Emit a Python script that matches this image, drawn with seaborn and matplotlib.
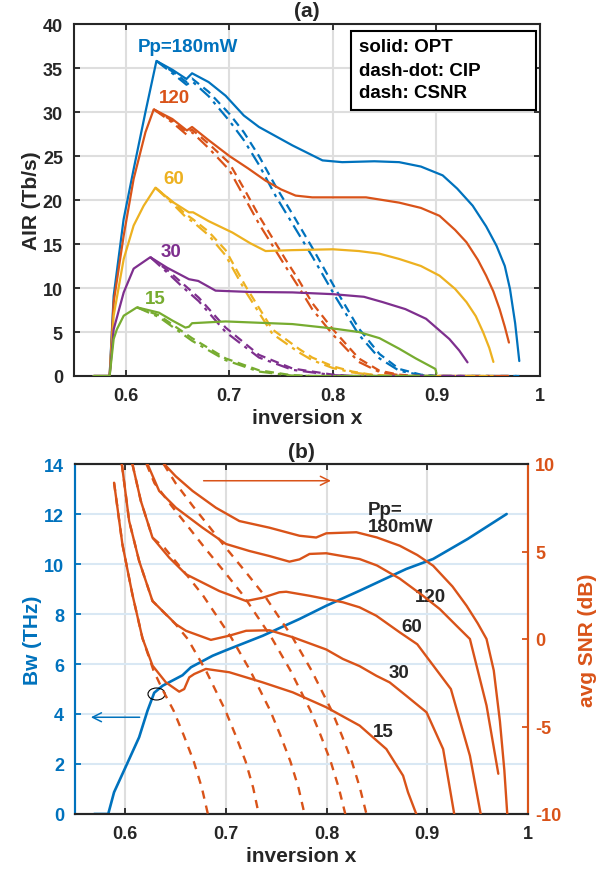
import numpy as np
import pandas as pd
import matplotlib
matplotlib.use("Agg")
import matplotlib.pyplot as plt
from matplotlib.patches import Ellipse, Rectangle
import seaborn as sns

sns.set_style("ticks")
plt.rcParams['font.family'] = ['Liberation Sans', 'DejaVu Sans']
plt.rcParams['font.weight'] = 'bold'
plt.rcParams['axes.labelweight'] = 'bold'
plt.rcParams['axes.titleweight'] = 'bold'
plt.rcParams['axes.unicode_minus'] = False

# ---------------- colours ----------------
C_BLUE = "#0072BD"
C_ORANGE = "#D95319"
C_YELLOW = "#EDB120"
C_PURPLE = "#7E2F8E"
C_GREEN = "#77AC30"

# ---------------- panel (a) data: AIR (Tb/s) ----------------
powers = ["180", "120", "60", "30", "15"]

opt180_x = [0.569, 0.5844, 0.5883, 0.5979, 0.6076, 0.619, 0.6296, 0.645, 0.6586, 0.664, 0.680, 0.6964, 0.714, 0.7286, 0.761, 0.790, 0.809, 0.840, 0.864, 0.885, 0.906, 0.920, 0.935, 0.948, 0.958, 0.966, 0.971, 0.976, 0.980]
opt180_y = [0, 0, 9.1, 17.8, 23.5, 30.0, 35.8, 34.8, 33.75, 34.4, 33.4, 31.85, 29.6, 28.3, 26.2, 24.5, 24.3, 24.4, 24.3, 23.8, 22.8, 21.3, 19.35, 17.0, 14.8, 12.5, 9.9, 6.0, 1.7]
opt120_x = [0.569, 0.5844, 0.5883, 0.5979, 0.6076, 0.619, 0.627, 0.645, 0.659, 0.664, 0.680, 0.700, 0.718, 0.735, 0.750, 0.764, 0.780, 0.800, 0.832, 0.864, 0.885, 0.903, 0.918, 0.929, 0.940, 0.948, 0.955, 0.961, 0.966, 0.970]
opt120_y = [0, 0, 8.4, 15.9, 22.4, 27.7, 30.3, 29.2, 27.9, 28.3, 26.8, 25.0, 23.6, 22.2, 21.2, 20.5, 20.3, 20.3, 20.3, 19.7, 19.1, 18.2, 16.6, 15.2, 13.2, 11.4, 9.6, 7.6, 5.6, 3.8]
opt60_x = [0.569, 0.5844, 0.5883, 0.598, 0.6076, 0.6173, 0.6286, 0.645, 0.661, 0.665, 0.680, 0.703, 0.720, 0.735, 0.760, 0.800, 0.825, 0.845, 0.864, 0.885, 0.903, 0.918, 0.929, 0.938, 0.945, 0.951, 0.955]
opt60_y = [0, 0, 6.85, 13.3, 17.1, 19.35, 21.4, 19.8, 18.6, 18.6, 17.6, 16.3, 15.1, 14.2, 14.3, 14.4, 14.2, 13.9, 13.3, 12.5, 11.4, 9.9, 8.4, 6.8, 5.0, 3.2, 1.6]
opt30_x = [0.569, 0.5844, 0.5883, 0.598, 0.6076, 0.6237, 0.640, 0.661, 0.670, 0.6867, 0.720, 0.761, 0.800, 0.830, 0.848, 0.870, 0.890, 0.9125, 0.922, 0.930]
opt30_y = [0, 0, 5.3, 9.5, 12.2, 13.5, 12.3, 11.0, 10.8, 9.7, 9.55, 9.5, 9.3, 9.0, 8.4, 7.6, 6.5, 4.2, 2.9, 1.55]
opt15_x = [0.569, 0.5844, 0.5883, 0.5914, 0.598, 0.6108, 0.632, 0.645, 0.6576, 0.661, 0.664, 0.680, 0.6964, 0.761, 0.800, 0.825, 0.845, 0.864, 0.880, 0.899, 0.900]
opt15_y = [0, 0, 4.2, 5.3, 6.85, 7.8, 7.2, 6.3, 5.5, 5.6, 6.0, 6.1, 6.2, 5.9, 5.4, 5.0, 4.3, 3.1, 2.0, 0.8, 0.3]

# CSNR (dash) and CIP (dash-dot), after the peak
dash180_x = [0.6296, 0.645, 0.6586, 0.664, 0.680, 0.700, 0.714, 0.7286, 0.745, 0.762, 0.780, 0.803, 0.825, 0.845, 0.864, 0.885, 0.900, 0.980]
csnr180_y = [35.8, 34.6, 33.4, 33.8, 32.3, 29.8, 27.7, 25.0, 21.5, 18.2, 14.6, 9.8, 5.4, 2.5, 0.8, 0.15, 0.0, 0.0]
cip180_y = [35.8, 34.4, 33.1, 33.5, 31.8, 29.0, 26.8, 24.0, 20.4, 17.1, 13.6, 8.9, 4.7, 2.0, 0.6, 0.1, 0.0, 0.0]
dash120_x = [0.627, 0.645, 0.659, 0.664, 0.680, 0.700, 0.716, 0.7286, 0.7545, 0.767, 0.780, 0.800, 0.825, 0.845, 0.864, 0.880, 0.970]
csnr120_y = [30.3, 29.0, 27.7, 28.0, 26.4, 24.2, 20.9, 18.2, 13.2, 10.9, 8.3, 5.3, 2.0, 0.6, 0.15, 0.0, 0.0]
cip120_y = [30.3, 28.8, 27.4, 27.7, 25.9, 23.4, 20.0, 17.3, 12.4, 10.1, 7.6, 4.7, 1.6, 0.45, 0.1, 0.0, 0.0]
dash60_x = [0.6286, 0.645, 0.6576, 0.665, 0.680, 0.6964, 0.7157, 0.7415, 0.767, 0.780, 0.800, 0.819, 0.840, 0.860, 0.955]
csnr60_y = [21.4, 19.8, 18.4, 17.8, 16.4, 14.3, 10.2, 5.3, 3.1, 2.1, 1.1, 0.5, 0.1, 0.0, 0.0]
cip60_y = [21.4, 19.6, 18.1, 17.5, 16.0, 13.7, 9.6, 4.8, 2.7, 1.8, 0.9, 0.4, 0.1, 0.0, 0.0]
dash30_x = [0.6237, 0.6415, 0.655, 0.6705, 0.6964, 0.7286, 0.761, 0.800, 0.820, 0.930]
csnr30_y = [13.5, 11.9, 10.5, 8.9, 5.5, 2.4, 0.85, 0.15, 0.0, 0.0]
cip30_y = [13.5, 11.6, 10.1, 8.5, 5.0, 2.1, 0.7, 0.1, 0.0, 0.0]
dash15_x = [0.6108, 0.632, 0.664, 0.6964, 0.7286, 0.760, 0.780, 0.900]
csnr15_y = [7.8, 6.9, 4.3, 2.0, 0.65, 0.1, 0.0, 0.0]
cip15_y = [7.8, 6.7, 4.0, 1.8, 0.5, 0.05, 0.0, 0.0]

air_labels = ["Pp=180mW", "120", "60", "30", "15"]
air_label_x = [0.6599, 0.6473, 0.6463, 0.6434, 0.628]
air_label_y = [37.5, 31.6, 22.4, 14.1, 8.75]

# ---------------- panel (b) data ----------------
bw_x = [0.569, 0.583, 0.5888, 0.6005, 0.6137, 0.622, 0.6287, 0.637, 0.6436, 0.6568, 0.6652, 0.6867, 0.700, 0.7365, 0.773, 0.7996, 0.8327, 0.879, 0.9057, 0.940, 0.9788]
bw_y = [0, 0, 0.87, 1.9, 3.07, 4.13, 4.85, 5.13, 5.27, 5.55, 5.87, 6.33, 6.55, 7.13, 7.8, 8.33, 8.93, 9.8, 10.2, 11.0, 12.0]

snr180_x = [0.6386, 0.650, 0.6668, 0.690, 0.7133, 0.7432, 0.773, 0.7896, 0.7996, 0.8295, 0.850, 0.8726, 0.890, 0.9057, 0.925, 0.939, 0.950, 0.9588, 0.966, 0.9721, 0.9765, 0.9794]
snr180_y = [10, 9.3, 8.46, 7.5, 6.74, 6.36, 5.9, 5.8, 6.04, 6.1, 5.8, 5.33, 4.8, 4.19, 3.0, 1.9, 0.9, 0.0, -1.8, -4.7, -7.5, -10]
snr120_x = [0.622, 0.6336, 0.6503, 0.6767, 0.700, 0.7232, 0.7432, 0.763, 0.773, 0.783, 0.7996, 0.8327, 0.850, 0.8726, 0.895, 0.9124, 0.930, 0.9423, 0.9588, 0.9705]
snr120_y = [10, 8.46, 7.5, 6.36, 5.43, 5.03, 4.74, 4.42, 4.55, 4.86, 4.9, 4.57, 4.2, 3.45, 2.5, 1.71, 0.7, 0.0, -3.8, -7.7]
snr60_x = [0.607, 0.6154, 0.627, 0.6436, 0.6602, 0.6934, 0.720, 0.7365, 0.753, 0.7598, 0.783, 0.8161, 0.8327, 0.8493, 0.8726, 0.890, 0.9234, 0.9423, 0.953]
snr60_y = [10, 7.89, 5.79, 4.65, 3.7, 2.74, 2.17, 2.36, 2.67, 2.7, 2.47, 2.1, 1.81, 1.33, 0.38, -0.3, -2.86, -6.67, -10]
snr30_x = [0.5965, 0.6038, 0.6137, 0.627, 0.6503, 0.6602, 0.685, 0.7033, 0.720, 0.7432, 0.7664, 0.7996, 0.8161, 0.8327, 0.8493, 0.8626, 0.879, 0.8992, 0.9157, 0.9267]
snr30_y = [10, 6.74, 4.46, 2.17, 0.84, 0.47, -0.05, 0.19, 0.47, 0.5, 0.1, -0.6, -1.14, -1.55, -2.1, -2.48, -3.24, -4.19, -6.29, -10]
snr15_x = [0.5888, 0.5971, 0.607, 0.617, 0.627, 0.6403, 0.6535, 0.6585, 0.6635, 0.6685, 0.680, 0.7033, 0.7365, 0.7664, 0.7996, 0.8328, 0.8593, 0.8759, 0.8808, 0.889]
snr15_y = [8.93, 5.41, 2.55, 0.05, -1.52, -2.48, -3.01, -2.86, -2.19, -2.0, -1.71, -1.9, -2.48, -3.05, -3.9, -4.95, -6.29, -7.81, -8.76, -10]

csnr_snr180_x = [0.638, 0.650, 0.667, 0.685, 0.700, 0.720, 0.738, 0.752, 0.766, 0.785, 0.805, 0.815, 0.825, 0.833, 0.8395]
csnr_snr180_y = [10, 8.9, 7.6, 6.3, 5.2, 3.8, 2.5, 1.3, 0.1, -1.8, -4.1, -5.5, -7.0, -8.5, -10]
csnr_snr120_x = [0.621, 0.629, 0.646, 0.664, 0.679, 0.699, 0.717, 0.731, 0.745, 0.764, 0.784, 0.794, 0.804, 0.812, 0.8185]
csnr_snr120_y = [10, 8.9, 7.6, 6.3, 5.2, 3.8, 2.5, 1.3, 0.1, -1.8, -4.1, -5.5, -7.0, -8.5, -10]
csnr_snr60_x = [0.607, 0.6154, 0.627, 0.639, 0.659, 0.677, 0.691, 0.705, 0.724, 0.744, 0.754, 0.764, 0.772, 0.778]
csnr_snr60_y = [10, 7.89, 5.79, 5.2, 3.8, 2.5, 1.3, 0.1, -1.8, -4.1, -5.5, -7.0, -8.5, -10]
csnr_snr30_x = [0.5965, 0.6038, 0.6137, 0.627, 0.650, 0.662, 0.6800, 0.6995, 0.7095, 0.7195, 0.7270, 0.7325]
csnr_snr30_y = [10, 6.74, 4.46, 2.17, 0.84, 0.0, -1.8, -4.1, -5.5, -7.0, -8.5, -10]
csnr_snr15_x = [0.5888, 0.5971, 0.607, 0.617, 0.628, 0.637, 0.648, 0.658, 0.668, 0.676, 0.682]
csnr_snr15_y = [8.93, 5.41, 2.55, 0.05, -1.8, -2.9, -4.1, -5.5, -7.0, -8.5, -10]

snr_labels = ["Pp=\n180mW", "120", "60", "30", "15"]
snr_label_x = [0.8407, 0.9034, 0.8845, 0.8716, 0.8566]
snr_label_y = [11.84, 8.68, 7.52, 5.68, 3.28]

xticks = [0.6, 0.7, 0.8, 0.9, 1.0]
xtick_labels = ["0.6", "0.7", "0.8", "0.9", "1"]

# ---------------- figure ----------------
W, H = 616, 879
fig = plt.figure(figsize=(W / 100, H / 100), dpi=100)
ax1 = fig.add_axes([74 / W, 1 - 377 / H, (540 - 74) / W, (377 - 25) / H])
ax2 = fig.add_axes([75 / W, 1 - 815 / H, (528 - 75) / W, (815 - 465) / H])

LW = 1.6
FS_TICK = 13
FS_LAB = 15
FS_TXT = 13.5
SPINE = "#262626"
TPAD = 8


def line(ax, x, y, color, ls="-", lw=LW, z=3):
    sns.lineplot(x=x, y=y, ax=ax, color=color, linestyle=ls, linewidth=lw,
                 estimator=None, sort=False, zorder=z, legend=False)


# ---- panel (a)
colors = [C_BLUE, C_ORANGE, C_YELLOW, C_PURPLE, C_GREEN]
opts = [(opt180_x, opt180_y), (opt120_x, opt120_y), (opt60_x, opt60_y), (opt30_x, opt30_y), (opt15_x, opt15_y)]
dashes = [(dash180_x, csnr180_y, cip180_y), (dash120_x, csnr120_y, cip120_y), (dash60_x, csnr60_y, cip60_y),
          (dash30_x, csnr30_y, cip30_y), (dash15_x, csnr15_y, cip15_y)]
for c, (ox, oy), (dx, cs, ci) in zip(colors, opts, dashes):
    line(ax1, dx, ci, c, ls=(0, (6, 2.5, 1.5, 2.5)), lw=LW)
    line(ax1, dx, cs, c, ls=(0, (4, 2.5)), lw=LW)
    line(ax1, ox, oy, c, ls="-", lw=LW)

for lab, lx, ly, c in zip(air_labels, air_label_x, air_label_y, colors):
    ax1.text(lx, ly, lab, color=c, fontsize=FS_TXT, fontweight='bold', ha='center', va='center')

ax1.set_xlim(0.55, 1.0)
ax1.set_ylim(0, 40)
ax1.set_xticks(xticks)
ax1.set_xticklabels(xtick_labels)
ax1.set_yticks(range(0, 41, 5))
ax1.grid(True, color="#dedede", linewidth=1.5, zorder=0)
ax1.set_axisbelow(True)
ax1.tick_params(direction='in', length=4, width=1.3, top=True, right=True,
                labelsize=FS_TICK, colors=SPINE, pad=TPAD)
for s in ax1.spines.values():
    s.set_color(SPINE)
    s.set_linewidth(1.5)
ax1.set_xlabel("inversion x", fontsize=FS_LAB, labelpad=3)
ax1.set_ylabel("AIR (Tb/s)", fontsize=FS_LAB, labelpad=1)
ax1.set_title("(a)", fontsize=FS_LAB, pad=6)

# legend-like box
ax1.add_patch(Rectangle((0.594, 0.756), 0.397, 0.224, transform=ax1.transAxes,
                        facecolor='white', edgecolor='black', linewidth=1.5, zorder=5))
for i, t in enumerate(["solid: OPT", "dash-dot: CIP", "dash: CSNR"]):
    ax1.text(0.611, [0.935, 0.869, 0.804][i], t, transform=ax1.transAxes, fontsize=FS_TXT,
             fontweight='bold', ha='left', va='center', zorder=6, color='black')

# ---- panel (b)
ax2r = ax2.twinx()
line(ax2, bw_x, bw_y, C_BLUE, lw=1.9, z=4)

snrs = [(snr180_x, snr180_y), (snr120_x, snr120_y), (snr60_x, snr60_y), (snr30_x, snr30_y), (snr15_x, snr15_y)]
csnrs = [(csnr_snr180_x, csnr_snr180_y), (csnr_snr120_x, csnr_snr120_y), (csnr_snr60_x, csnr_snr60_y),
         (csnr_snr30_x, csnr_snr30_y), (csnr_snr15_x, csnr_snr15_y)]
for (sx, sy), (cx, cy) in zip(snrs, csnrs):
    line(ax2r, cx, cy, C_ORANGE, ls=(0, (3.5, 3)), lw=1.7)
    line(ax2r, sx, sy, C_ORANGE, ls="-", lw=1.7)

ax2.set_xlim(0.55, 1.0)
ax2.set_ylim(0, 14)
ax2r.set_ylim(-10, 10)
ax2.set_xticks(xticks)
ax2.set_xticklabels(xtick_labels)
ax2.set_yticks(range(0, 15, 2))
ax2r.set_yticks([-10, -5, 0, 5, 10])
ax2.xaxis.grid(True, color="#dedede", linewidth=1.5)
ax2.yaxis.grid(True, color="#d9e8f4", linewidth=1.5)
ax2.set_axisbelow(True)
ax2.tick_params(axis='x', direction='in', length=4, width=1.3, top=True,
                labelsize=FS_TICK, colors=SPINE, pad=TPAD)
ax2.tick_params(axis='y', direction='in', length=4, width=1.3,
                labelsize=FS_TICK, colors=C_BLUE, pad=TPAD)
ax2r.tick_params(axis='y', direction='in', length=4, width=1.3,
                 labelsize=FS_TICK, colors=C_ORANGE, pad=5)
for ax in (ax2, ax2r):
    for s in ax.spines.values():
        s.set_linewidth(1.5)
        s.set_color(SPINE)
    ax.spines['left'].set_color(C_BLUE)
    ax.spines['right'].set_color(C_ORANGE)
ax2.set_xlabel("inversion x", fontsize=FS_LAB, labelpad=3)
ax2.set_ylabel("Bw (THz)", fontsize=FS_LAB, color=C_BLUE, labelpad=1)
ax2r.set_ylabel("avg SNR (dB)", fontsize=FS_LAB, color=C_ORANGE, labelpad=12)
ax2.set_title("(b)", fontsize=FS_LAB, pad=5)

for lab, lx, ly in zip(snr_labels, snr_label_x, snr_label_y):
    ha = 'left' if lab.startswith("Pp") else 'center'
    ax2.text(lx, ly, lab, color='#262626', fontsize=FS_TXT, fontweight='bold', ha=ha,
             va='center', linespacing=1.05, zorder=10)

# arrows and ellipse
ax2.annotate("", xy=(0.563, 3.87), xytext=(0.617, 3.87),
             arrowprops=dict(arrowstyle='->', color=C_BLUE, lw=1.1, mutation_scale=16), zorder=10)
ax2.annotate("", xy=(0.807, 13.33), xytext=(0.675, 13.33),
             arrowprops=dict(arrowstyle='->', color=C_ORANGE, lw=1.1, mutation_scale=16), zorder=10)
ax2.add_patch(Ellipse((0.631, 4.8), 0.017, 0.48, fill=False, edgecolor='black', linewidth=0.8, zorder=10))

fig.savefig("out.png", dpi=100)
